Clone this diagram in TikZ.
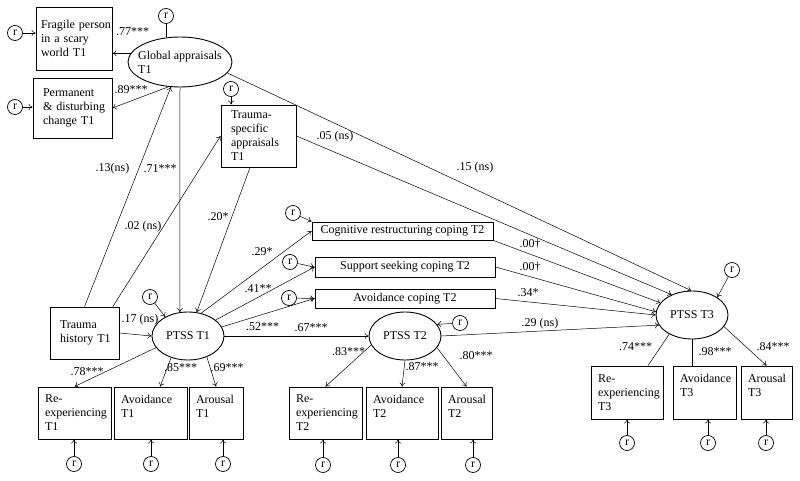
\documentclass[tikz,border=0pt]{standalone}
\usepackage{fontspec}
\setmainfont{Liberation Serif}
\usetikzlibrary{shapes.geometric,arrows.meta}
\hyphenpenalty=10000
\begin{document}
\begin{tikzpicture}[x=1pt,y=-1pt,font=\fontsize{12}{14}\selectfont,
		>={To[length=4pt,width=6pt]},
		obs/.style={draw,line width=.9pt,align=left,inner xsep=7pt,inner ysep=1pt,minimum height=52pt},
		lat/.style={draw,ellipse,line width=.9pt,inner sep=0pt,minimum width=72pt,minimum height=48pt},
		cop/.style={draw,line width=.9pt,inner sep=1pt,minimum width=180pt},
		res/.style={draw,circle,line width=.7pt,inner sep=0pt,minimum size=15pt},
		arr/.style={->,line width=.5pt},
		bare/.style={line width=.5pt}]
	\useasboundingbox (0,0) rectangle (800,481);
	\node[obs,inner xsep=5pt,text width=66pt,minimum height=63pt] (frag) at (74,38.5) {Fragile~person\\in a scary\\world~T1};
	\node[obs,inner xsep=10pt,text width=59pt,minimum height=60pt] (perm) at (72.5,108) {Permanent\\\&~disturbing\\change~T1};
	\node[lat,align=left,inner xsep=-6pt,minimum width=104pt,minimum height=50pt] (glob) at (180,62) {Global appraisals\\T1};
	\node[obs,inner xsep=10pt,text width=55pt,minimum height=62pt] (ts) at (258.5,136) {Trauma-\\specific\\appraisals\\T1};
	\node[obs,inner xsep=10pt,text width=49pt] (trauma) at (84.5,333) {Trauma\\history~T1};
	\node[lat] (P1) at (188,336) {PTSS T1};
	\node[lat] (P2) at (405,336) {PTSS T2};
	\node[lat] (P3) at (692,315) {PTSS T3};
	\node[cop,minimum width=181pt,minimum height=18pt] (cog) at (402.5,231) {Cognitive restructuring coping T2};
	\node[cop,minimum height=20pt] (sup) at (405,267) {Support seeking coping T2};
	\node[cop,minimum height=19pt] (avo) at (405,298.5) {Avoidance coping T2};
	\node[obs,text width=59pt] (re1) at (74.5,413) {Re-\\experiencing\\T1};
	\node[obs,text width=59pt] (av1) at (150.5,413) {Avoidance\\T1\\\mbox{}};
	\node[obs,text width=40pt] (ar1) at (216,413) {Arousal\\T1\\\mbox{}};
	\node[obs,text width=59pt] (re2) at (325.5,413) {Re-\\experiencing\\T2};
	\node[obs,text width=58pt] (av2) at (402,413) {Avoidance\\T2\\\mbox{}};
	\node[obs,text width=37pt] (ar2) at (466.5,413) {Arousal\\T2\\\mbox{}};
	\node[obs,text width=58pt,minimum height=53pt] (re3) at (627,392.5) {Re-\\experiencing\\T3};
	\node[obs,text width=49pt,minimum height=53pt] (av3) at (704.5,392.5) {Avoidance\\T3\\\mbox{}};
	\node[obs,text width=37pt,minimum height=53pt] (ar3) at (766.5,392.5) {Arousal\\T3\\\mbox{}};
	\node[res] (rfrag) at (15,33) {r};
	\node[res] (rperm) at (15,107) {r};
	\node[res] (rglob) at (166,16) {r};
	\node[res] (rts) at (231,89) {r};
	\node[res] (rP1) at (150,297) {r};
	\node[res] (rcog) at (293,213) {r};
	\node[res] (rsup) at (290,262) {r};
	\node[res] (ravo) at (289,298) {r};
	\node[res] (rP2) at (460,323) {r};
	\node[res] (rP3) at (732,270) {r};
	\node[res] (rre1) at (74,464) {r};
	\node[res] (rav1) at (151,464) {r};
	\node[res] (rar1) at (223,464) {r};
	\node[res] (rre2) at (323,465) {r};
	\node[res] (rav2) at (398,465) {r};
	\node[res] (rar2) at (473,465) {r};
	\node[res] (rre3) at (627,443) {r};
	\node[res] (rav3) at (708,443) {r};
	\node[res] (rar3) at (766,443) {r};
	\draw[arr] (rfrag) -- (rfrag -| frag.west);
	\draw[arr] (rperm) -- (rperm -| perm.west);
	\draw[bare] (rglob) -- (rglob |- glob.north);
	\draw[arr] (rts) -- (rts |- ts.north);
	\draw[arr] (rP1) -- (P1.140);
	\draw[arr] (rcog) -- (cog.north west);
	\draw[arr] (rsup) -- (sup.west);
	\draw[arr] (ravo) -- (avo.west);
	\draw[arr] (rP2) -- (P2.20);
	\draw[arr] (rP3) -- (P3.35);
	\draw[arr] (rre1) -- (rre1 |- re1.south);
	\draw[arr] (rav1) -- (rav1 |- av1.south);
	\draw[arr] (rar1) -- (rar1 |- ar1.south);
	\draw[arr] (rre2) -- (rre2 |- re2.south);
	\draw[arr] (rav2) -- (rav2 |- av2.south);
	\draw[arr] (rar2) -- (rar2 |- ar2.south);
	\draw[arr] (rre3) -- (rre3 |- re3.south);
	\draw[arr] (rav3) -- (rav3 |- av3.south);
	\draw[arr] (rar3) -- (rar3 |- ar3.south);
	\draw[arr] (glob.170) -- (glob.170 -| frag.east);
	\draw[arr] (glob.245) -- (perm.east);
	\draw[arr] (trauma.north) -- (glob.250);
	\draw[arr] (trauma.43) -- (ts.west);
	\draw[arr] (glob.south) -- (P1.109);
	\draw[arr] (ts.255) -- (P1.70);
	\draw[arr] (trauma.east) -- (P1.west);
	\draw[arr] (P1.60) -- (cog.west);
	\draw[arr] (P1.30) -- (sup.west);
	\draw[arr] (P1.15) -- (avo.west);
	\draw[arr] (P1.east) -- (P2.west);
	\draw[arr] (P1.200) -- (re1.north);
	\draw[arr] (P1.232) -- (av1.70);
	\draw[arr] (P1.-48) -- (ar1.north);
	\draw[arr] (P2.195) -- (re2.north);
	\draw[arr] (P2.south) -- (av2.north);
	\draw[arr] (P2.-20) -- (ar2.north);
	\draw[arr] (glob.-13) -- (P3.92);
	\draw[arr] (ts.east) -- (P3.135);
	\draw[arr] (cog.south east) -- (P3.159);
	\draw[arr] (sup.east) -- (P3.175);
	\draw[arr] (avo.east) -- (P3.west);
	\draw[arr] (P2.east) -- (P3.197);
	\draw[bare] (P3.220) -- (re3.52);
	\draw[bare] (P3.south) -- (P3.south |- av3.north);
	\draw[arr] (P3.-20) -- (ar3.north);
	\node (l77) at (132.5,32) {.77***};
	\node (l89) at (131,90) {.89***};
	\node (l13) at (112.5,169) {.13(ns)};
	\node (l71) at (160,169) {.71***};
	\node (l02) at (143,227) {.02 (ns)};
	\node (l20) at (218,217) {.20*};
	\node (l17) at (140,320) {.17 (ns)};
	\node (l29a) at (262,252) {.29*};
	\node (l41) at (258,289) {.41**};
	\node (l52) at (262.5,327) {.52***};
	\node (l67) at (311,328) {.67***};
	\node (l78) at (87,372) {.78***};
	\node (l85) at (180.5,368) {.85***};
	\node (l69) at (227,368) {.69***};
	\node (l83) at (348.5,352) {.83***};
	\node (l87) at (422,367) {.87***};
	\node (l80) at (476,356) {.80***};
	\node (l15) at (475,168) {.15 (ns)};
	\node (l05) at (335,137) {.05 (ns)};
	\node (l00a) at (530,244) {.00†};
	\node (l00b) at (530,267) {.00†};
	\node (l34) at (528,293) {.34*};
	\node (l29b) at (540,324) {.29 (ns)};
	\node (l74) at (635.5,347) {.74***};
	\node (l98) at (715,352) {.98***};
	\node (l84) at (773,347) {.84***};
\end{tikzpicture}
\end{document}
